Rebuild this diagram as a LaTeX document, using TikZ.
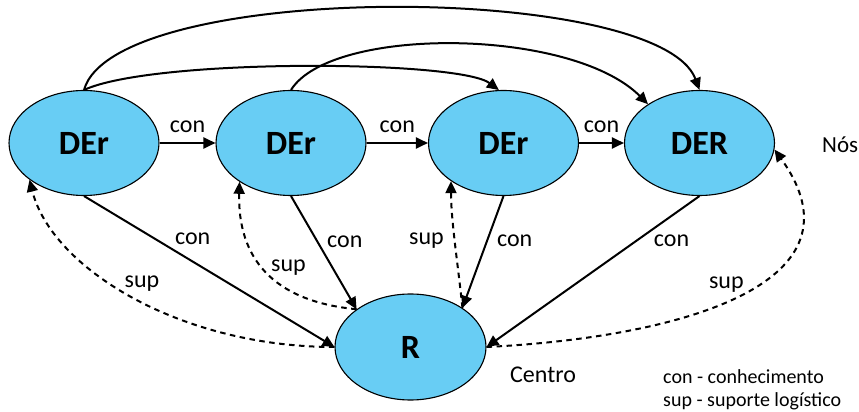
\documentclass[tikz,border=0pt]{standalone}
\usepackage{fontspec}
\setmainfont{Carlito}
\usepackage{tikz}
\usetikzlibrary{shapes.geometric,arrows.meta,positioning}
\definecolor{nodeblue}{RGB}{104,205,244}

\begin{document}
\begin{tikzpicture}[x=1pt,y=1pt,
    state/.style={shape=ellipse,draw=black,line width=1.1pt,fill=nodeblue,
      minimum width=150pt,minimum height=105pt,inner sep=0pt,
      font=\fontsize{34}{40}\selectfont\bfseries},
    con/.style={line width=2pt,-{Triangle[length=12pt,width=11pt]}},
    sup/.style={con,dash pattern=on 5.5pt off 4.5pt},
    lbl/.style={inner sep=2pt,font=\fontsize{24}{28}\selectfont},
    txt/.style={inner sep=0pt,anchor=base west}]
  \useasboundingbox (0,0) rectangle (859,412);

   \node[state] (D1) at (84,269) {DEr};
    \node[state] (D2) at (291,269) {DEr};
    \node[state] (D3) at (503.5,269) {DEr};
    \node[state] (D4) at (699.5,269) {DER};
    \node[state,minimum width=151pt,minimum height=106pt] (R) at (410.5,65) {R};

    \draw[con] (D1.east) -- (D2.west) node[lbl,midway,above=7pt] {con};
    \draw[con] (D2.east) -- (D3.west) node[lbl,midway,above=7pt] {con};
    \draw[con] (D3.east) -- (D4.west) node[lbl,midway,above=7pt] {con};

    \draw[con] (D1.north) .. controls +(31,110) and +(-40,108) .. (D4.north);
    \draw[con] (D1.north) .. controls +(70,32) and +(-40,30) .. (D3.95);
    \draw[con] (D2.north) .. controls +(40,64) and +(-77,77) .. (D4.143);

    \draw[con] (D1.south) -- (R.west) node[lbl,pos=.434,above=14pt] {con};
    \draw[con] (D2.south) -- (R.145) node[lbl,pos=.4,right=7pt] {con};
    \draw[con] (D3.south) -- (R.37) node[lbl,pos=.4,right=7pt] {con};
    \draw[con] (D4.south) -- (R.east) node[lbl,pos=.294,right=14pt] {con};

    \draw[sup] (R.west) .. controls +(-155,0) and +(22,-88) .. (D1.214)
      node[lbl,pos=.47,above=7pt] {sup};
    \draw[sup] (R.145) .. controls +(-85,8) and +(-2,-75) .. (D2.217)
      node[lbl,pos=.33,above=11pt] {sup};
    \draw[sup] (R.37) .. controls +(-4,40) and +(0,-40) .. (D3.216)
      node[lbl,pos=.53,left=8pt] {sup};
    \draw[sup] (R.east) .. controls +(200,10) and +(95,-132) .. (D4.355)
      node[lbl,pos=.46,above=6pt] {sup};

    \node[txt,font=\fontsize{23}{28}\selectfont] (nos) at (822,259) {Nós};
    \node[txt,font=\fontsize{24}{28}\selectfont] (centro) at (510,29) {Centro};
    \node[txt,font=\fontsize{20}{24}\selectfont] (leg1) at (663,28) {con - conhecimento};
    \node[txt,font=\fontsize{20}{24}\selectfont] (leg2) at (663,5) {sup - suporte logístico};

\end{tikzpicture}
\end{document}
